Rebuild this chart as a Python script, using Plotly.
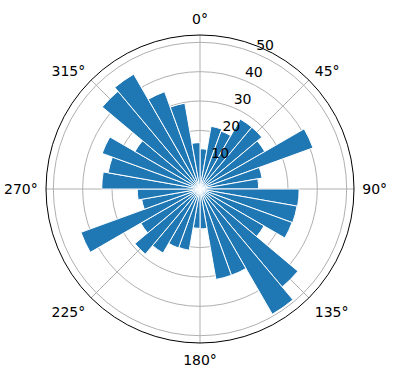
import plotly.graph_objects as go

# 36 directional bins of 10 degrees, bar starts at bin edge (clockwise from north)
bin_start = [i * 10 for i in range(36)]
values = [13.7, 21.7, 21.0, 27.5, 27.5, 25.5, 41.0, 21.5, 20.0,
          33.8, 33.6, 33.4, 25.2, 43.6, 49.3, 31.3, 31.3, 13.6,
          13.4, 21.2, 21.4, 25.2, 29.0, 23.3, 43.2, 20.2, 21.4,
          33.5, 31.8, 35.5, 25.6, 43.5, 45.2, 35.3, 29.7, 15.8]
bin_width = 10
angle_ticks = [0, 45, 90, 135, 180, 225, 270, 315]
angle_labels = ["0°", "45°", "90°", "135°", "180°", "225°", "270°", "315°"]
radial_ticks = [10, 20, 30, 40, 50]
radial_label_angle = 22.5

theta_centers = [b + bin_width / 2 for b in bin_start]

fig = go.Figure()
fig.add_trace(go.Barpolar(
    r=values,
    theta=theta_centers,
    width=[bin_width] * len(values),
    marker=dict(color="#1f77b4", line=dict(color="white", width=1)),
    showlegend=False,
))
# radial tick labels placed like matplotlib (at 22.5 degrees)
fig.add_trace(go.Scatterpolar(
    r=radial_ticks,
    theta=[radial_label_angle] * len(radial_ticks),
    mode="text",
    text=[str(v) for v in radial_ticks],
    textposition="top right",
    textfont=dict(family="DejaVu Sans", size=14, color="black"),
    cliponaxis=False,
    hoverinfo="skip",
    showlegend=False,
))

W, H = 396, 380
cx, cy, R = 200, 189, 154
fig.update_layout(
    width=W, height=H,
    margin=dict(l=0, r=0, t=0, b=0),
    paper_bgcolor="white",
    font=dict(family="DejaVu Sans", size=14, color="black"),
    polar=dict(
        domain=dict(x=[(cx - R) / W, (cx + R) / W],
                    y=[(H - cy - R) / H, (H - cy + R) / H]),
        bgcolor="white",
        angularaxis=dict(
            rotation=90, direction="clockwise",
            tickvals=angle_ticks, ticktext=angle_labels,
            ticks="outside", ticklen=5, tickcolor="rgba(0,0,0,0)",
            showline=True, linecolor="black", linewidth=1,
            gridcolor="#b0b0b0", gridwidth=0.8,
            tickfont=dict(size=14),
        ),
        radialaxis=dict(
            range=[0, 52.5], tickvals=radial_ticks,
            showticklabels=False,
            showline=False, ticks="",
            gridcolor="#b0b0b0", gridwidth=0.8,
        ),
    ),
)

fig.write_html("out.html")
